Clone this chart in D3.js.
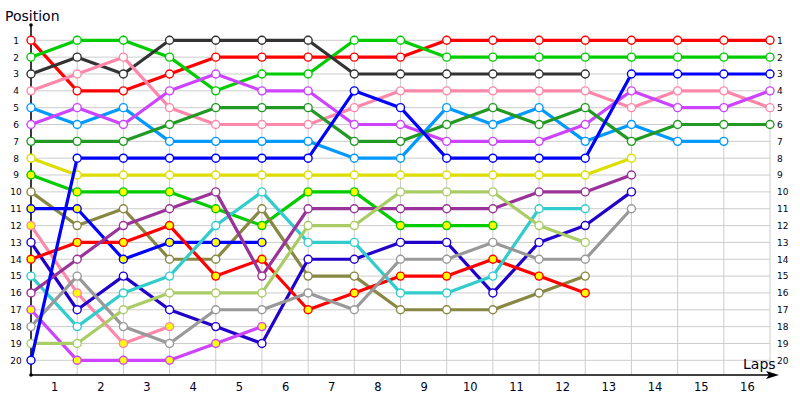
<!DOCTYPE html>
<html lang="en">
<head>
  <meta charset="UTF-8">
  <title>Lap chart</title>
  <style>
    body { margin: 0; background: #fff; }
    text { font-family: "DejaVu Sans", sans-serif; fill: #000020; }
  </style>
</head>
<body>

<svg id="chart" width="800" height="400"></svg>

<script src="https://cdnjs.cloudflare.com/ajax/libs/d3/7.8.5/d3.min.js"></script>

<script>
// laps 0..16, positions 1..20
var laps = d3.range(0, 17);
var lapLabels = ["1","2","3","4","5","6","7","8","9","10","11","12","13","14","15","16"];
var positions = d3.range(1, 21);

// one array per car, position at each lap (missing = retired)
var redCar      = [1,4,4,3,2,2,2,2,2,1,1,1,1,1,1,1,1];
var greenCar    = [2,1,1,2,4,3,3,1,1,2,2,2,2,2,2,2,2];
var darkGrayCar = [3,2,3,1,1,1,1,3,3,3,3,3,3];
var pinkCar     = [4,3,2,5,6,6,6,5,4,4,4,4,4,5,4,4,5];
var skyCar      = [5,6,5,7,7,7,7,8,8,5,6,5,7,6,7,7];
var violetCar   = [6,5,6,4,3,4,4,6,6,7,7,7,6,4,5,5,4];
var forestCar   = [7,7,7,6,5,5,5,7,7,6,5,6,5,7,6,6,6];
var yellowCar   = [8,9,9,9,9,9,9,9,9,9,9,9,9,8];
var green2Car   = [9,10,10,10,11,12,10,10,12,12,12];
var oliveCar    = [10,12,11,14,14,11,15,15,17,17,17,16,15];
var blue2Car    = [11,11,14,13,13,13];
var pink2Car    = [12,16,19,18];
var navyCar     = [13,17,15,17,18,19,14,14,13,13,16,13,12,10];
var red2Car     = [14,13,13,12,15,14,17,16,15,15,14,15,16];
var cyanCar     = [15,18,16,15,12,10,13,13,16,16,15,11,11];
var plumCar     = [16,14,12,11,10,15,11,11,11,11,11,10,10,9];
var violet2Car  = [17,20,20,20,19,18];
var grayCar     = [18,15,18,19,17,17,16,17,14,14,13,14,14,11];
var limeCar     = [19,19,17,16,16,16,12,12,10,10,10,12,13];
var blueCar     = [20,8,8,8,8,8,8,4,5,8,8,8,8,3,3,3,3];

var series = [
  {v: redCar,      c: "#ff0000", f: "#fff"},
  {v: greenCar,    c: "#00cc00", f: "#fff"},
  {v: darkGrayCar, c: "#333333", f: "#fff"},
  {v: pinkCar,     c: "#ff88aa", f: "#fff"},
  {v: skyCar,      c: "#0099ff", f: "#fff"},
  {v: violetCar,   c: "#cc44ff", f: "#fff"},
  {v: forestCar,   c: "#229922", f: "#fff"},
  {v: yellowCar,   c: "#dddd00", f: "#fff"},
  {v: green2Car,   c: "#00cc00", f: "#ffff00"},
  {v: oliveCar,    c: "#888844", f: "#fff"},
  {v: blue2Car,    c: "#0000ff", f: "#ffff00"},
  {v: pink2Car,    c: "#ff88aa", f: "#ffff00"},
  {v: navyCar,     c: "#2200cc", f: "#fff"},
  {v: red2Car,     c: "#ff0000", f: "#ffff00"},
  {v: cyanCar,     c: "#33cccc", f: "#fff"},
  {v: plumCar,     c: "#993399", f: "#fff"},
  {v: violet2Car,  c: "#cc44ff", f: "#ffff00"},
  {v: grayCar,     c: "#999999", f: "#fff"},
  {v: limeCar,     c: "#aacc66", f: "#fff"},
  {v: blueCar,     c: "#0000ff", f: "#fff"}
];

var svg = d3.select("#chart");
var x = d3.scaleLinear().domain([0, 16]).range([31, 770]);
var y = d3.scaleLinear().domain([1, 20]).range([40.3, 360.3]);
var bottom = 375;

// grid
svg.append("g").selectAll("line").data(laps).join("line")
  .attr("x1", d => x(d)).attr("x2", d => x(d))
  .attr("y1", 35).attr("y2", bottom)
  .attr("stroke", "#cccccc");
svg.append("g").selectAll("line").data(positions).join("line")
  .attr("x1", x(0)).attr("x2", x(16))
  .attr("y1", d => y(d)).attr("y2", d => y(d))
  .attr("stroke", "#cccccc");

// axes
svg.append("line").attr("x1", x(0)).attr("x2", 770).attr("y1", bottom).attr("y2", bottom)
  .attr("stroke", "#000").attr("stroke-width", 1.5);
svg.append("path").attr("d", "M766,371 L779,375 L766,379 L769,375 Z").attr("fill", "#000");
svg.append("line").attr("x1", x(0)).attr("x2", x(0)).attr("y1", 25).attr("y2", bottom)
  .attr("stroke", "#000").attr("stroke-width", 1.5);
svg.append("circle").attr("cx", x(0)).attr("cy", 25).attr("r", 1.8).attr("fill", "#000");
svg.append("circle").attr("cx", x(0)).attr("cy", bottom).attr("r", 1.8).attr("fill", "#000");

// lap labels, centred between grid lines
var xAxis = d3.axisBottom(x)
  .tickValues(lapLabels.map((d, i) => i + 0.5))
  .tickFormat((d, i) => lapLabels[i])
  .tickSize(0).tickPadding(0);
var gx = svg.append("g").attr("transform", "translate(0," + (bottom + 8) + ")").call(xAxis);
gx.select(".domain").remove();
gx.selectAll("text").attr("font-size", "11.5px").attr("font-family", "DejaVu Sans").attr("fill", "#000020");

// position labels both sides
var yLeft = d3.axisLeft(y).tickValues(positions).tickSize(0).tickPadding(0);
var gl = svg.append("g").attr("transform", "translate(16,0)").call(yLeft);
gl.select(".domain").remove();
gl.selectAll("text").attr("text-anchor", "middle").attr("font-size", "9px")
  .attr("font-family", "DejaVu Sans").attr("fill", "#000020");

var yRight = d3.axisRight(y).tickValues(positions).tickSize(0).tickPadding(0);
var gr = svg.append("g").attr("transform", "translate(777,0)").call(yRight);
gr.select(".domain").remove();
gr.selectAll("text").attr("font-size", "9px")
  .attr("font-family", "DejaVu Sans").attr("fill", "#000020");

svg.append("text").attr("x", 5).attr("y", 21).attr("font-size", "14px").text("Position");
svg.append("text").attr("x", 743).attr("y", 369).attr("font-size", "14px").text("Laps");

// cars
var line = d3.line().x((d, i) => x(i)).y(d => y(d));
series.forEach(function (s) {
  var g = svg.append("g");
  g.append("path").datum(s.v).attr("d", line)
    .attr("fill", "none").attr("stroke", s.c).attr("stroke-width", 3.2)
    .attr("stroke-linejoin", "round");
  g.selectAll("circle").data(s.v).join("circle")
    .attr("cx", (d, i) => x(i)).attr("cy", d => y(d)).attr("r", 4)
    .attr("fill", s.f).attr("stroke", s.c).attr("stroke-width", 1.4);
});
</script>

</body>
</html>
